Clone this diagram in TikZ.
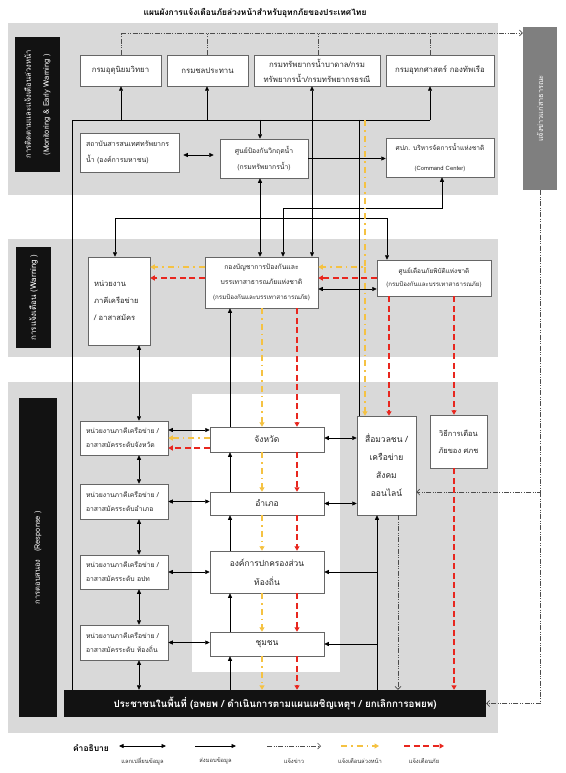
\documentclass[tikz,border=0pt]{standalone}
\usepackage{fontspec}
\setmainfont[Script=Thai]{Loma}
\usetikzlibrary{arrows.meta}

\definecolor{bandgray}{HTML}{D9D9D9}
\definecolor{pubgray}{HTML}{7F7F7F}
\definecolor{warnyellow}{HTML}{F5C242}
\definecolor{warnred}{HTML}{E8261E}

\newcommand{\boxfont}{\fontsize{7.8}{14}\selectfont}

\tikzset{
  box/.style={draw=black!60, line width=0.5pt, fill=white, text=black!85, inner sep=2pt, align=center, font=\boxfont},
  lbox/.style={box, align=left, inner xsep=6pt, text width=#1},
  tag/.style={fill=black!93, text=white, rotate=90, align=center, inner sep=0pt, font=\fontsize{7.6}{18}\selectfont},
  link/.style={line width=0.6pt},
  data/.style={link, -{Triangle[length=4.5pt,width=4pt]}},
  xchg/.style={link, {Triangle[length=4.5pt,width=4pt]}-{Triangle[length=4.5pt,width=4pt]}},
  newsline/.style={line width=0.7pt, black!70, dash pattern=on 5pt off 1.5pt on 0.8pt off 1.5pt on 0.8pt off 1.5pt},
  news/.style={newsline, -{Straight Barb[length=3pt,width=6pt]}},
  early/.style={line width=1.5pt, warnyellow, dash pattern=on 6pt off 4pt on 1.5pt off 4pt, -{Triangle[length=4.5pt,width=5pt]}},
  alarm/.style={line width=1.7pt, warnred, dash pattern=on 6pt off 3.5pt, -{Triangle[length=4.5pt,width=5pt]}},
  keytext/.style={text=black!80, font=\fontsize{5.8}{7}\selectfont},
}

\begin{document}
\begin{tikzpicture}[x=1pt,y=-1pt]
\useasboundingbox (0,0) rectangle (565,773);

% bands
\fill[bandgray] (8,23) rectangle (498,195); % monitoring
\fill[bandgray] (8,239) rectangle (498,357); % warning
\fill[bandgray] (8,382) rectangle (498,733); % response
\fill[white] (192,394) rectangle (340,672); % admin column

\node[font=\bfseries\fontsize{8.4}{10}\selectfont] (title) at (255,13) {แผนผังการแจ้งเตือนภัยล่วงหน้าสำหรับอุทกภัยของประเทศไทย};

% side tags
\node[tag, minimum width=135pt, minimum height=45pt] (tagmon) at (37.5,104.5) {การติดตามและแจ้งเตือนล่วงหน้า\\(Monitoring \& Early Warning )};
\node[tag, minimum width=101pt, minimum height=35pt, font=\fontsize{8}{10}\selectfont] (tagwarn) at (33.5,297.5) {การแจ้งเตือน (Warning )};
\node[tag, minimum width=319pt, minimum height=38pt, font=\fontsize{7.5}{10}\selectfont] (tagresp) at (38,557.5) {การตอบสนอง\quad(Response )};
\node[tag, fill=pubgray, text=white!85, minimum width=163pt, minimum height=34pt, font=\fontsize{7.3}{9}\selectfont] (pub) at (540,108.5) {แจ้งข่าวแก่สาธารณะ};

% monitoring
\node[box, minimum width=81pt, minimum height=31pt] (met) at (120.5,70.5) {กรมอุตุนิยมวิทยา};
\node[box, minimum width=81pt, minimum height=31pt] (rid) at (207.5,70.5) {กรมชลประทาน};
\node[box, minimum width=126pt, minimum height=31pt, font=\fontsize{7.8}{15}\selectfont] (dgr) at (317,70.5) {กรมทรัพยากรน้ำบาดาล/กรม\\ทรัพยากรน้ำ/กรมทรัพยากรธรณี};
\node[box, minimum width=108pt, minimum height=31pt] (hyd) at (440,70.5) {กรมอุทกศาสตร์ กองทัพเรือ};

\node[lbox=87pt, minimum height=39pt, font=\fontsize{7}{16}\selectfont] (hii) at (129.5,152.5) {สถาบันสารสนเทศทรัพยากร\\น้ำ (องค์การมหาชน)};
\node[box, minimum width=88pt, minimum height=39pt, font=\fontsize{6.8}{16}\selectfont] (wcc) at (264,158.5) {ศูนย์ป้องกันวิกฤตน้ำ\\(กรมทรัพยากรน้ำ)};
\node[box, minimum width=108pt, minimum height=39pt, font=\fontsize{6.6}{20}\selectfont] (cmd) at (440,157.5) {ศปภ. บริหารจัดการน้ำแห่งชาติ\\{\fontsize{5.9}{7}\selectfont(Command Center)}};

% warning
\node[lbox=50pt, minimum height=88pt, font=\fontsize{7.6}{17}\selectfont] (vol) at (119,301) {หน่วยงาน\\ภาคีเครือข่าย\\/ อาสาสมัคร};
\node[box, minimum width=113pt, minimum height=51pt, font=\fontsize{6.8}{15}\selectfont] (kbc) at (261.5,282.5) {กองบัญชาการป้องกันและ\\บรรเทาสาธารณภัยแห่งชาติ\\{\fontsize{6.2}{7}\selectfont(กรมป้องกันและบรรเทาสาธารณภัย)}};
\node[box, minimum width=114pt, minimum height=36pt, font=\fontsize{6.4}{13}\selectfont] (ndwc) at (434,278) {ศูนย์เตือนภัยพิบัติแห่งชาติ\\{\fontsize{6.1}{7}\selectfont(กรมป้องกันและบรรเทาสาธารณภัย)}};

% response
\node[lbox=76pt, minimum height=34pt, font=\fontsize{6.8}{14}\selectfont] (l1) at (124,438) {หน่วยงานภาคีเครือข่าย /\\อาสาสมัครระดับจังหวัด};
\node[lbox=76pt, minimum height=35pt, font=\fontsize{6.8}{14}\selectfont] (l2) at (124,501.5) {หน่วยงานภาคีเครือข่าย /\\อาสาสมัครระดับอำเภอ};
\node[lbox=76pt, minimum height=34pt, font=\fontsize{6.8}{14}\selectfont] (l3) at (124,572) {หน่วยงานภาคีเครือข่าย /\\อาสาสมัครระดับ อปท};
\node[lbox=76pt, minimum height=35pt, font=\fontsize{6.8}{14}\selectfont] (l4) at (124,642.5) {หน่วยงานภาคีเครือข่าย /\\อาสาสมัครระดับ ท้องถิ่น};

\node[box, minimum width=114pt, minimum height=25pt, font=\fontsize{8.5}{10}\selectfont] (c1) at (267,439.5) {จังหวัด};
\node[box, minimum width=114pt, minimum height=23pt, font=\fontsize{8.5}{10}\selectfont] (c2) at (267,503.5) {อำเภอ};
\node[box, minimum width=114pt, minimum height=42pt, font=\fontsize{8.4}{19}\selectfont] (c3) at (267,572) {องค์การปกครองส่วน\\ท้องถิ่น};
\node[box, minimum width=114pt, minimum height=24pt, font=\fontsize{8.5}{10}\selectfont] (c4) at (267,644) {ชุมชน};

\node[box, minimum width=59pt, minimum height=99pt, font=\fontsize{8.5}{18}\selectfont] (media) at (386.5,465.5) {สื่อมวลชน /\\เครือข่าย\\สังคม\\ออนไลน์};
\node[box, minimum width=57pt, minimum height=53pt, font=\fontsize{7.5}{17}\selectfont] (warnway) at (458.5,441.5) {วิธีการเตือน\\ภัยของ ศภช};

\node[fill=black!93, text=white, minimum width=422pt, minimum height=27pt, inner sep=0pt, font=\bfseries\fontsize{9.8}{11}\selectfont] (pop) at (275,703.5) {ประชาชนในพื้นที่ (อพยพ / ดำเนินการตามแผนเผชิญเหตุฯ / ยกเลิกการอพยพ)};

% rails and rows
\coordinate (bus) at (72,120);
\coordinate (bus2) at (115,218);
\coordinate (rnews) at (0,33);
\coordinate (cmdrow) at (0,208);
\coordinate (ewarn) at (0,267);
\coordinate (rwarn) at (0,278);
\coordinate (swarn) at (0,289);
\coordinate (r1k) at (0,430);
\coordinate (r1e) at (0,438);
\coordinate (r1r) at (0,448);
\coordinate (rmedia) at (0,492);
\coordinate (xmet) at (121,0);
\coordinate (xrid) at (207,0);
\coordinate (xdgr) at (312,0);
\coordinate (xdgrn) at (318,0);
\coordinate (xhyd) at (430,0);
\coordinate (xwcc) at (260,0);
\coordinate (xkc) at (283,0);
\coordinate (xcmd) at (442,0);
\coordinate (xmedia) at (359,0);
\coordinate (xearly) at (365,0);
\coordinate (xndwc) at (387,0);
\coordinate (xr1) at (389,0);
\coordinate (xr2) at (454,0);
\coordinate (xlv) at (139,0);
\coordinate (xup) at (230,0);
\coordinate (xe) at (262,0);
\coordinate (xa) at (297,0);
\coordinate (xfeed) at (377,0);
\coordinate (xnews) at (398,0);
\coordinate (xrail) at (540,0);

% news to the public
\draw[news] (met.north -| xmet) -- (xmet |- rnews) -- (rnews -| pub.north);
\foreach \bx/\px in {rid/xrid,dgr/xdgrn,hyd/xhyd}
  \draw[newsline] (\bx.north -| \px) -- (\px |- rnews);

% data bus
\draw[link] (pop.north -| bus) -- (bus) -- (bus -| xhyd);
\foreach \bx/\px in {met/xmet,rid/xrid,dgr/xdgr,hyd/xhyd}
  \draw[data] (bus -| \px) -- (\bx.south -| \px);
\draw[data] (bus -| xwcc) -- (wcc.north -| xwcc);
\draw[xchg, shorten <=4pt, shorten >=6pt] (hii.east |- 0,155) -- (wcc.west |- 0,155);
\draw[data] (wcc.east) -- (wcc.east -| cmd.west);
\draw[xchg] (wcc.south -| xwcc) -- (kbc.north -| xwcc);
\draw[link] (bus2) -- (bus2 -| xndwc);
\draw[data] (bus2) -- (vol.north -| bus2);
\draw[data] (bus2 -| xndwc) -- (ndwc.north -| xndwc);
\draw[xchg] (kbc.north -| xkc) -- (xkc |- cmdrow) -| (cmd.south -| xcmd);
\draw[data] (bus -| xdgr) -- (kbc.north -| xdgr);
\draw[link] (bus -| xmedia) -- (media.north -| xmedia);

% warning links
\draw[early] (xearly |- bus) |- (ewarn -| kbc.east);
\draw[early] (xearly |- ewarn) -- (media.north -| xearly);
\draw[alarm] (ndwc.west |- rwarn) -- (kbc.east |- rwarn);
\draw[xchg] (kbc.east |- swarn) -- (ndwc.west |- swarn);
\draw[early] (kbc.west |- ewarn) -- (vol.east |- ewarn);
\draw[alarm] (kbc.west |- rwarn) -- (vol.east |- rwarn);
\draw[alarm] (ndwc.south -| xr1) -- (media.north -| xr1);
\draw[alarm] (ndwc.south -| xr2) -- (warnway.north -| xr2);
\draw[alarm] (warnway.south -| xr2) -- (pop.north -| xr2);

% response chains
\foreach \ux/\dx in {vol/l1,l1/l2,l2/l3,l3/l4,l4/pop}
  \draw[xchg] (\ux.south -| xlv) -- (\dx.north -| xlv);
\foreach \ux/\dx in {kbc/c1,c1/c2,c2/c3,c3/c4,c4/pop} {
  \draw[data] (\dx.north -| xup) -- (\ux.south -| xup);
  \draw[early] (\ux.south -| xe) -- (\dx.north -| xe);
  \draw[alarm] (\ux.south -| xa) -- (\dx.north -| xa);
}
\draw[xchg] (l1.east |- r1k) -- (c1.west |- r1k);
\draw[early] (c1.west |- r1e) -- (l1.east |- r1e);
\draw[alarm] (c1.west |- r1r) -- (l1.east |- r1r);
\foreach \ix in {2,3,4}
  \draw[xchg] (l\ix) -- (l\ix -| c\ix.west);
\draw[xchg] (c1.east |- r1e) -- (media.west |- r1e);
\draw[xchg] (c2) -- (c2 -| media.west);

% feedback from the people
\draw[data] (pop.north -| xfeed) -- (media.south -| xfeed);
\draw[data] (xfeed |- c3) -- (c3.east);
\draw[data] (xfeed |- c4) -- (c4.east);
\draw[news] (media.south -| xnews) -- (pop.north -| xnews);
\draw[news] (pub.west) -- (xrail |- rmedia) -- (rmedia -| media.east);
\draw[news] (xrail |- rmedia) -- (xrail |- pop) -- (pop.east);

% legend
\node[font=\bfseries\fontsize{8.5}{10}\selectfont] (keyhead) at (91,748) {คำอธิบาย};
\foreach \sty/\ka/\kb/\kt [count=\i] in {xchg/119/166/แลกเปลี่ยนข้อมูล,data/195/236/ส่งมอบข้อมูล,news/267/321/แจ้งข่าว,early/341/379/แจ้งเตือนล่วงหน้า,alarm/404/444/แจ้งเตือนภัย} {
  \coordinate (k\i a) at (\ka,746);
  \coordinate (k\i b) at (\kb,746);
  \draw[\sty] (k\i a) -- (k\i b);
  \node[keytext] (kt\i) at ({(\ka+\kb)/2},761) {\kt};
}
\end{tikzpicture}
\end{document}
